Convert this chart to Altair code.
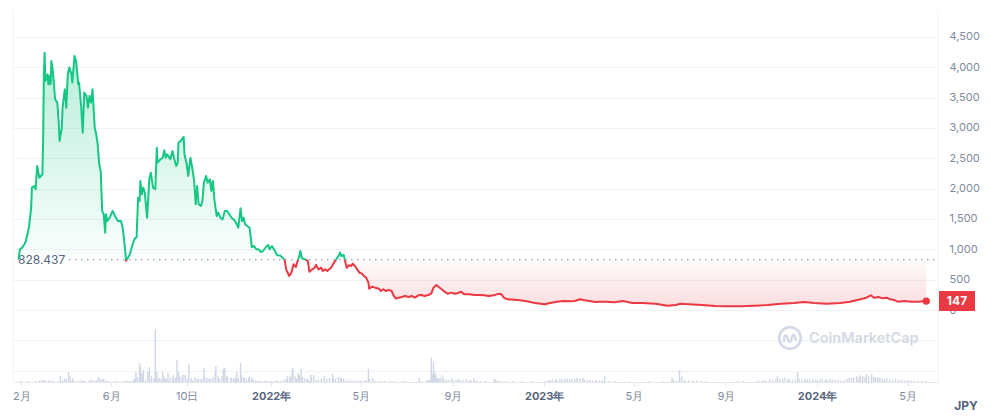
import altair as alt
import pandas as pd

# ---------------- data ----------------
BASE = 828.437          # reference price (first price of the period)
LAST_LABEL = "147"
ORIGIN = "2022-01-01"   # day offsets below are relative to this date

price_days = [-338, -336, -333, -330, -328, -326, -324, -321, -320, -317, -315, -313, -311, -310, -306, -305, -304, -303, -302, -299,
              -298, -296, -295, -294, -292, -289, -286, -284, -283, -280, -279, -276, -274, -272, -270, -267, -266, -263, -261, -258,
              -257, -254, -252, -250, -247, -245, -243, -241, -239, -236, -234, -232, -230, -228, -226, -224, -222, -221, -219, -216,
              -212, -209, -205, -201, -199, -197, -194, -189, -186, -183, -180, -178, -176, -175, -173, -171, -169, -166, -163, -161,
              -158, -155, -153, -152, -148, -145, -143, -141, -139, -135, -132, -130, -127, -125, -124, -121, -117, -116, -113, -111,
              -108, -105, -103, -101, -99, -97, -94, -92, -90, -87, -85, -82, -80, -78, -76, -73, -71, -68, -65, -62,
              -59, -56, -53, -49, -46, -44, -41, -39, -37, -35, -32, -29, -27, -26, -23, -20, -17, -14, -11, -7,
              -4, -2, 1, 5, 8, 12, 15, 18, 20, 24, 27, 30, 33, 35, 37, 39, 41, 45, 47, 49,
              51, 55, 58, 60, 63, 67, 69, 72, 75, 80, 84, 87, 90, 92, 94, 97, 99, 101, 104, 107,
              109, 112, 115, 118, 121, 124, 127, 130, 131, 135, 139, 144, 147, 150, 153, 157, 161, 164, 167, 170,
              175, 179, 184, 188, 192, 197, 201, 205, 210, 214, 217, 221, 224, 228, 232, 236, 241, 245, 250, 254,
              258, 265, 272, 278, 285, 291, 298, 304, 308, 311, 316, 325, 333, 342, 351, 360, 366, 373, 382, 391,
              400, 406, 413, 419, 426, 433, 439, 448, 459, 470, 483, 496, 514, 530, 541, 547, 558, 576, 594, 611,
              629, 647, 664, 682, 699, 713, 726, 743, 761, 774, 788, 796, 802, 806, 812, 818, 823, 828, 834, 838,
              847, 856, 865, 876]
price_vals = [828, 1000, 1027, 1083, 1137, 1252, 1356, 1686, 2016, 2043, 1989, 2373, 2236, 2180, 2236, 2785, 3884, 4240, 3774, 3884,
              3720, 3856, 3720, 4103, 3939, 3472, 3417, 3060, 2785, 3005, 3334, 3637, 3334, 3884, 3994, 3884, 3747, 4186, 4103, 3720,
              3747, 3334, 2922, 3582, 3527, 3334, 3527, 3417, 3637, 3005, 2895, 2730, 2401, 2291, 1632, 1577, 1274, 1577, 1467, 1521,
              1632, 1549, 1467, 1467, 1384, 1192, 810, 918, 1055, 1165, 1203, 1851, 1796, 2126, 1906, 2016, 1933, 1521, 2154, 2263,
              2016, 1989, 2675, 2428, 2483, 2510, 2632, 2510, 2565, 2483, 2620, 2510, 2373, 2428, 2757, 2785, 2851, 2565, 2401, 2208,
              2510, 2291, 2126, 1742, 2043, 1742, 1714, 1796, 2098, 2208, 2098, 2154, 1961, 2126, 1824, 1549, 1604, 1521, 1494, 1632,
              1632, 1577, 1521, 1478, 1412, 1356, 1676, 1467, 1521, 1412, 1384, 1356, 1165, 1038, 1055, 1000, 1000, 956, 972, 1038,
              1071, 1000, 1055, 972, 901, 900, 862, 819, 670, 560, 615, 753, 709, 796, 862, 972, 852, 835, 824, 808,
              631, 670, 697, 742, 670, 697, 643, 670, 643, 697, 780, 835, 890, 945, 890, 906, 796, 697, 737, 725,
              763, 725, 670, 615, 604, 560, 533, 450, 351, 384, 368, 351, 313, 341, 313, 330, 313, 231, 187, 203,
              214, 231, 214, 231, 203, 242, 247, 231, 247, 269, 368, 412, 379, 341, 297, 269, 286, 269, 280, 302,
              258, 258, 247, 247, 242, 231, 242, 269, 258, 203, 176, 170, 160, 143, 121, 104, 94, 115, 137, 148,
              143, 148, 176, 160, 148, 132, 137, 137, 127, 148, 115, 115, 104, 71, 82, 104, 94, 82, 66, 60,
              60, 71, 82, 104, 115, 132, 115, 104, 115, 137, 176, 203, 242, 203, 214, 192, 203, 176, 160, 137,
              148, 137, 137, 147]

vol_days = [-335, -325, -315, -310, -307, -304, -302, -298, -295, -291, -284, -282, -279, -276, -274, -271, -269, -266, -265, -262,
            -258, -254, -251, -249, -243, -241, -238, -234, -231, -229, -226, -224, -221, -218, -209, -205, -197, -193, -190, -187,
            -184, -183, -181, -179, -176, -175, -173, -172, -171, -168, -165, -163, -160, -157, -155, -153, -151, -150, -147, -145,
            -143, -142, -140, -138, -135, -132, -131, -128, -127, -126, -124, -122, -119, -118, -115, -112, -110, -107, -105, -102,
            -99, -97, -94, -93, -90, -89, -86, -83, -81, -78, -75, -74, -71, -69, -66, -64, -62, -60, -58, -54,
            -53, -50, -48, -46, -44, -41, -40, -37, -36, -33, -30, -29, -26, -24, -21, -19, -16, -13, -9, -7,
            -4, 0, 3, 7, 9, 13, 17, 20, 22, 25, 26, 28, 29, 32, 34, 36, 38, 40, 42, 45,
            48, 50, 53, 54, 57, 60, 63, 67, 71, 74, 78, 82, 83, 86, 90, 93, 94, 97, 101, 105,
            108, 112, 116, 120, 124, 127, 130, 132, 136, 139, 143, 147, 152, 159, 164, 175, 179, 198, 201, 208,
            210, 212, 214, 216, 217, 218, 220, 222, 224, 226, 229, 231, 234, 237, 241, 243, 247, 250, 253, 257,
            261, 265, 267, 271, 275, 280, 287, 298, 300, 303, 307, 314, 323, 336, 349, 366, 370, 373, 376, 380,
            382, 386, 389, 393, 396, 399, 402, 406, 409, 413, 417, 419, 423, 426, 430, 434, 439, 443, 446, 452,
            459, 479, 505, 525, 536, 538, 542, 546, 549, 553, 558, 564, 569, 575, 582, 624, 631, 651, 657, 661,
            667, 671, 675, 677, 680, 684, 687, 691, 693, 697, 701, 704, 706, 710, 714, 717, 720, 724, 728, 730,
            734, 737, 741, 743, 747, 750, 754, 758, 762, 766, 770, 773, 776, 779, 783, 786, 788, 791, 794, 796,
            799, 803, 806, 808, 811, 814, 817, 820, 823, 827, 831, 835, 839, 843, 847, 851, 855, 860, 865, 870,
            876]
vol_vals = [2, 2, 2, 3, 4, 4, 3, 3, 3, 3, 2, 11, 4, 6, 6, 19, 11, 4, 8, 2,
            3, 4, 3, 2, 3, 4, 3, 4, 9.5, 6, 5, 6, 4, 2, 2, 2, 3, 3, 2, 2,
            3, 6, 19, 9.5, 36, 28, 17, 8, 23, 4, 19, 28, 11, 6, 100, 19, 6, 8, 6, 19,
            9.5, 6, 6, 17, 8, 6, 13, 8, 9.5, 42, 19, 11, 8, 13, 13, 6, 34, 8, 4, 9.5,
            6, 6, 4, 6, 27, 9.5, 8, 6, 6, 8, 19, 30, 11, 6, 11, 25, 27, 11, 9.5, 8,
            8, 6, 8, 19, 8, 36, 13, 9.5, 8, 6, 8, 11, 8, 4, 3, 2, 3, 2, 2, 3,
            2, 2, 2, 3, 2, 3, 4, 6, 11, 8, 11, 21, 27, 11, 6, 17, 13, 25, 9.5, 6,
            6, 4, 13, 8, 13, 4, 4, 6, 11, 6, 8, 15, 8, 6, 9.5, 8, 6, 6, 4, 3,
            3, 3, 3, 3, 3, 4, 25, 6, 8, 3, 2, 2, 2, 2, 2, 2, 2, 8, 2, 3,
            4, 4, 46, 15, 38, 19, 15, 8, 6, 8, 13, 6, 4, 4, 8, 4, 4, 6, 4, 4,
            5, 3, 4, 8, 3, 2, 2, 6, 4, 4, 2, 2, 2, 2, 2, 2, 4, 4, 5, 5,
            4, 6, 5, 6, 5, 6, 5, 6, 8, 6, 8, 5, 4, 4, 3, 4, 3, 4, 11, 2,
            2, 2, 2, 2, 8, 4, 3, 23, 11, 4, 4, 3, 3, 2, 2, 2, 2, 3, 4, 3,
            5, 4, 5, 11, 6, 6, 8, 6, 5, 4, 5, 19, 6, 5, 6, 5, 6, 5, 4, 4,
            5, 6, 4, 5, 6, 5, 4, 4, 3, 4, 6, 8, 8, 9.5, 11, 9.5, 13, 11, 9.5, 15,
            11, 15, 9.5, 8, 9.5, 8, 6, 6, 8, 5, 4, 6, 4, 4, 3, 4, 3, 3, 2, 3,
            2]

tick_dates = ["2021-02-01", "2021-06-01", "2021-09-10", "2022-01-01", "2022-05-01", "2022-09-01",
              "2023-01-01", "2023-05-01", "2023-09-01", "2024-01-01", "2024-05-01"]
tick_labels = ["2月", "6月", "10日", "2022年", "5月", "9月", "2023年", "5月", "9月", "2024年", "5月"]
y_ticks = [-1000, -500, 0, 500, 1000, 1500, 2000, 2500, 3000, 3500, 4000, 4500]

# ---------------- helpers ----------------
DAY_MS = 86400000
origin_ms = int(pd.Timestamp(ORIGIN).value // 10**6)


def ms(d):
    return origin_ms + d * DAY_MS


# insert crossing points with the reference line so the line can change colour there
pts = []
for i, (d, v) in enumerate(zip(price_days, price_vals)):
    if i > 0:
        d0, v0 = price_days[i - 1], price_vals[i - 1]
        if (v0 - BASE) * (v - BASE) < 0:
            t = (BASE - v0) / (v - v0)
            pts.append((d0 + t * (d - d0), BASE))
    pts.append((d, v))

seg_rows = []
seg = 0
cur = None
pending = None
for d, v in pts:
    side = "up" if v > BASE else ("down" if v < BASE else None)
    if side is None:
        if cur is not None:
            seg_rows.append((d, v, cur, seg))
        seg += 1
        cur = None
        pending = (d, v)
        continue
    if cur is None:
        if pending is not None:
            seg_rows.append((pending[0], pending[1], side, seg))
        cur = side
    seg_rows.append((d, v, side, seg))

area_df = pd.DataFrame({
    "t": [ms(d) for d, _ in pts],
    "hi": [max(v, BASE) for _, v in pts],
    "lo": [min(v, BASE) for _, v in pts],
    "base": [BASE] * len(pts),
})
line_df = pd.DataFrame(seg_rows, columns=["d", "v", "side", "seg"])
line_df["t"] = line_df["d"].map(ms)
vol_df = pd.DataFrame({"t": [ms(d) for d in vol_days], "u": vol_vals})
last_df = pd.DataFrame({"t": [ms(price_days[-1])], "v": [price_vals[-1]], "label": [LAST_LABEL]})
base_df = pd.DataFrame({"v": [BASE], "label": [f"{BASE:.3f}"]})
one = pd.DataFrame({"a": [0]})

tick_ms = [int(pd.Timestamp(s).value // 10**6) for s in tick_dates]

# ---------------- layout / style ----------------
W, H = 925, 371
GREEN, RED = "#16c784", "#ea3943"
GRID = "#eff2f5"
LABEL = "#808a9d"
DARK = "#58667e"

label_expr = ("[" + ",".join(f"'{s}'" for s in tick_labels) + "][indexof(["
              + ",".join(str(m) for m in tick_ms) + "], time(datum.value))]")

x_axis = alt.Axis(values=tick_ms, labelExpr=label_expr, grid=False, domainColor="#e3e7ed", tickColor="#e3e7ed",
                  tickSize=4, labelPadding=4, labelFontSize=11, labelOverlap=False, labelFlush=False,
                  labelColor={"condition": {"test": "utcmonth(datum.value)==0", "value": DARK}, "value": LABEL},
                  labelFontWeight={"condition": {"test": "utcmonth(datum.value)==0", "value": "bold"}, "value": "normal"},
                  title=None)
y_axis = alt.Axis(values=y_ticks, orient="right", labelExpr="datum.value < 0 ? '' : format(datum.value, ',')",
                  grid=True, gridColor=GRID, domain=False, ticks=False, labelPadding=11, labelFontSize=11,
                  labelColor=LABEL, title=None)

xs = alt.Scale(type="utc", domain=[ms(-338.6), ms(885)], nice=False)
ys = alt.Scale(domain=[-1186, 4926], nice=False, zero=False)

X = alt.X("t:T", scale=xs, axis=x_axis, title=None)


def Yp(field):
    return alt.Y(field, scale=ys, axis=y_axis, title=None)


g_grad = alt.Gradient(gradient="linear", x1=0, x2=0, y1=0, y2=1,
                      stops=[alt.GradientStop(color="rgba(22,199,132,0.30)", offset=0),
                             alt.GradientStop(color="rgba(22,199,132,0.02)", offset=1)])
r_grad = alt.Gradient(gradient="linear", x1=0, x2=0, y1=0, y2=1,
                      stops=[alt.GradientStop(color="rgba(234,57,67,0.02)", offset=0),
                             alt.GradientStop(color="rgba(234,57,67,0.17)", offset=1)])

g_area = alt.Chart(area_df).mark_area(color=g_grad).encode(x=X, y=Yp("hi:Q"), y2="base:Q")
r_area = alt.Chart(area_df).mark_area(color=r_grad).encode(x=X, y=Yp("lo:Q"), y2="base:Q")
base_rule = alt.Chart(base_df).mark_rule(color="#9aa2b1", strokeDash=[1.5, 4.5], strokeWidth=1.2).encode(
    y=Yp("v:Q"), x=alt.value(56), x2=alt.value(W))
base_label = alt.Chart(base_df).mark_text(align="left", baseline="middle", fontSize=12, color=DARK).encode(
    y=Yp("v:Q"), x=alt.value(5), text="label:N")
lines = alt.Chart(line_df).mark_line(strokeWidth=2, strokeJoin="round").encode(
    x=X, y=Yp("v:Q"),
    color=alt.Color("side:N", scale=alt.Scale(domain=["up", "down"], range=[GREEN, RED]), legend=None),
    detail="seg:N")
end_dot = alt.Chart(last_df).mark_circle(size=55, color=RED, opacity=1).encode(x=X, y=Yp("v:Q"))
badge = alt.Chart(last_df).mark_point(shape="M-1,-0.556L1,-0.556L1,0.556L-1,0.556Z", size=1296, filled=True,
                                      color=RED, opacity=1).encode(x=alt.value(W + 19), y=Yp("v:Q"))
badge_text = alt.Chart(last_df).mark_text(color="white", fontWeight="bold", fontSize=12, baseline="middle").encode(
    x=alt.value(W + 19), y=Yp("v:Q"), text="label:N")

price_group = alt.layer(g_area, r_area, base_rule, base_label, lines, end_dot, badge, badge_text)

left_border = alt.Chart(one).mark_rule(color=GRID).encode(x=alt.value(0), y=alt.value(0), y2=alt.value(H))
right_border = alt.Chart(one).mark_rule(color=GRID).encode(x=alt.value(W), y=alt.value(0), y2=alt.value(H))
logo_ring = alt.Chart(one).mark_point(shape="circle", size=470, filled=False, strokeWidth=2.6,
                                      color="#d3d9e4", opacity=1).encode(x=alt.value(777), y=alt.value(327))
logo_wave = alt.Chart(one).mark_point(shape="M-0.55,0.4L-0.55,-0.05Q-0.42,-0.45 -0.25,-0.05L-0.12,0.3Q0.0,0.5 0.1,0.2L0.22,-0.2Q0.35,-0.45 0.45,-0.1L0.55,0.25",
                                      size=470, filled=False, strokeWidth=2.4, color="#d3d9e4",
                                      opacity=1).encode(x=alt.value(777), y=alt.value(327))
watermark = alt.Chart(pd.DataFrame({"s": ["CoinMarketCap"]})).mark_text(
    align="left", baseline="middle", fontSize=14.5, fontWeight=600, color="#d3d9e4").encode(
    x=alt.value(796), y=alt.value(328), text="s:N")
jpy = alt.Chart(pd.DataFrame({"s": ["JPY"]})).mark_text(
    align="center", baseline="middle", fontSize=12, fontWeight="bold", color=DARK).encode(
    x=alt.value(W + 28), y=alt.value(H + 24), text="s:N")

vol_bars = alt.Chart(vol_df).mark_bar(width=1.4, color="#cfd6e4").encode(
    x=X, y=alt.Y("u:Q", scale=alt.Scale(domain=[0, 700], nice=False), axis=None, title=None))

vol_group = alt.layer(left_border, right_border, logo_ring, logo_wave, watermark, jpy, vol_bars)

chart = alt.layer(vol_group, price_group).resolve_scale(y="independent").properties(
    width=W, height=H, padding={"left": 4, "top": 2, "right": 4, "bottom": 4}
).configure(font="Inter").configure_view(stroke=None).configure_axis(labelFont="Inter")

chart.save("out.html", embed_options={"renderer": "svg", "actions": False})
